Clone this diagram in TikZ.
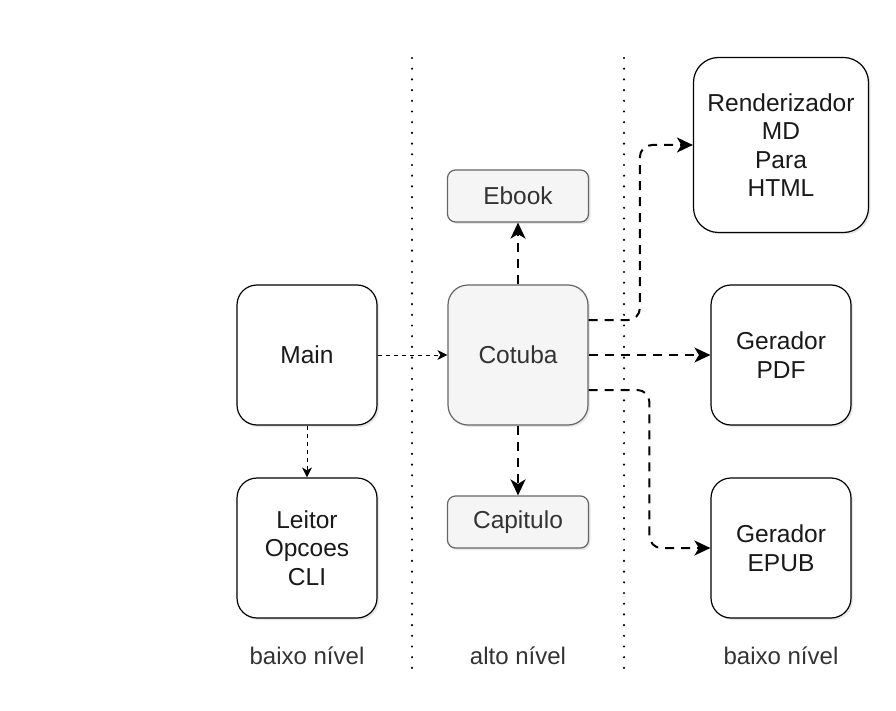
\documentclass[tikz,border=0pt]{standalone}
\usepackage{fontspec}
\setmainfont{Liberation Sans}
\usetikzlibrary{arrows.meta,shadows,calc}
\definecolor{grayfill}{HTML}{F5F5F5}
\definecolor{graystroke}{HTML}{666666}
\definecolor{darktext}{HTML}{333333}
\tikzset{
  box/.style={draw=black, fill=white, line width=1.2pt, rounded corners=20pt,
    minimum width=140pt, minimum height=140pt, align=center,
    font=\fontsize{24.5}{28.5}\selectfont, text=black!90,
    drop shadow={opacity=0.18, shadow xshift=2pt, shadow yshift=-2pt}},
  graybox/.style={box, draw=graystroke, fill=grayfill, text=darktext},
  smallbox/.style={graybox, rounded corners=8pt, minimum width=141pt, minimum height=52pt},
  thinarrow/.style={draw=black, line width=1pt, dash pattern=on 4pt off 4pt,
    -{Stealth[length=10pt,width=10pt,inset=3pt]}},
  thickarrow/.style={draw=black, line width=2pt, dash pattern=on 9pt off 7pt,
    -{Stealth[length=16pt,width=15pt,inset=4.5pt]}, rounded corners=12pt},
  sep/.style={draw=black, line width=2.4pt, line cap=round, dash pattern=on 0pt off 10.7pt},
  lvl/.style={font=\fontsize{24}{28}\selectfont, text=darktext}
}
\begin{document}
\begin{tikzpicture}[x=1pt,y=-1pt]
\useasboundingbox[fill=white] (0,0) rectangle (896,711);

% separators
\coordinate (s1t) at (412,58);
\coordinate (s1b) at (412,677);
\coordinate (s2t) at (624,58);
\coordinate (s2b) at (624,677);
\draw[sep] (s1t) -- (s1b);
\draw[sep] (s2t) -- (s2b);

% nodes
\node[box] (main) at (307,355) {Main};
\node[box] (leitor) at (307,548) {Leitor\\Opcoes\\CLI};
\node[graybox] (cot) at (518,355) {Cotuba};
\node[smallbox] (ebook) at (518,196) {Ebook};
\node[smallbox] (cap) at (518,522) {Capitulo};
\node[box, minimum width=175pt, minimum height=175pt, rounded corners=25pt] (ren) at (781,145) {Renderizador\\MD\\Para\\HTML};
\node[box] (pdf) at (781,355) {Gerador\\PDF};
\node[box] (epub) at (781,548) {Gerador\\EPUB};

% labels
\node[lvl] (l1) at (307,656) {baixo nível};
\node[lvl] (l2) at (518,656) {alto nível};
\node[lvl] (l3) at (781,656) {baixo nível};

% connectors
\draw[thinarrow] (main.east) -- (cot.west);
\draw[thinarrow] (main.south) -- (leitor.north);
\draw[thickarrow] (cot.north) -- (ebook.south);
\draw[thickarrow] (cot.south) -- (cap.north);
\draw[thickarrow] ([yshift=35pt]cot.east) -| ([xshift=-53pt]ren.west) -- (ren.west);
\draw[thickarrow] (cot.east) -- (pdf.west);
\draw[thickarrow] ([yshift=-35pt]cot.east) -| ([xshift=-61pt]epub.west) -- (epub.west);
\end{tikzpicture}
\end{document}
